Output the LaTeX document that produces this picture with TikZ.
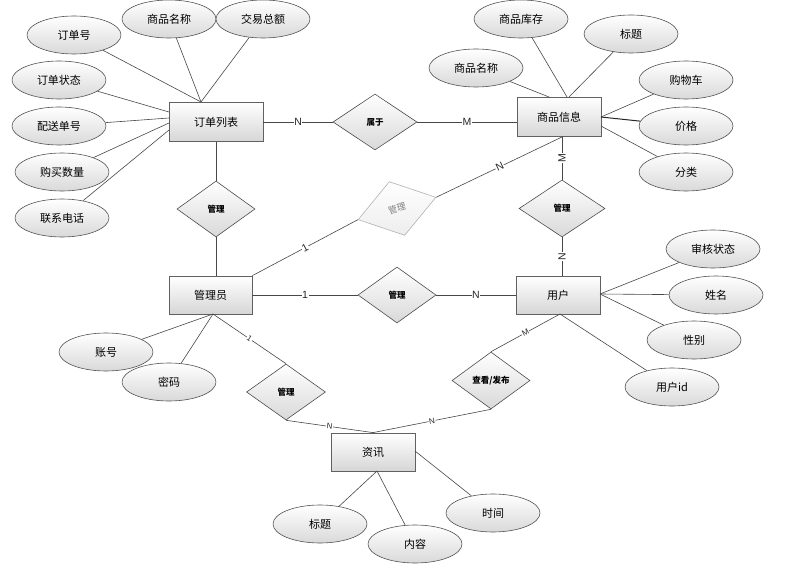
\documentclass[tikz,border=0pt]{standalone}
\usepackage{fontspec}
\setmainfont{Liberation Sans}
\newfontfamily\cjk{Noto Sans CJK SC}
\usetikzlibrary{shapes.geometric,shadows}
\begin{document}
\begin{tikzpicture}[x=1pt,y=-1pt,
  conn/.style={draw=black!72, line width=0.6pt},
  entity/.style={rectangle, draw=black!62, line width=0.8pt, top color=white, bottom color=black!16,
    minimum width=84pt, minimum height=38pt, inner sep=0pt,
    font=\cjk\fontsize{11}{13}\selectfont,
    drop shadow={shadow xshift=0.8pt, shadow yshift=-0.8pt, opacity=0.3}},
  attr/.style={ellipse, draw=black!68, line width=0.6pt, top color=white, bottom color=black!15,
    minimum width=94pt, minimum height=38pt, inner sep=0pt,
    font=\cjk\fontsize{11}{13}\selectfont},
  rel/.style={diamond, draw=black!70, line width=0.6pt, top color=white, bottom color=black!15,
    minimum width=78pt, minimum height=56pt, inner sep=0pt,
    font=\cjk\bfseries\fontsize{8.5}{10}\selectfont},
  faded/.style={rel, draw=black!30, bottom color=black!7, text=black!50,
    font=\cjk\fontsize{9}{10}\selectfont},
  card/.style={fill=white, inner sep=0.6pt, font=\fontsize{10.5}{12}\selectfont, text=black!85},
  cards/.style={card, font=\fontsize{8}{9}\selectfont}
]
\useasboundingbox (0,0) rectangle (796,575);

% entities
\node[entity, minimum width=94pt, minimum height=39pt] (ord) at (216,122) {订单列表};
\node[entity, minimum height=39pt] (shop) at (559,117) {商品信息};
\node[entity, minimum width=83pt] (admin) at (210.5,295) {管理员};
\node[entity] (user) at (558,295) {用户};
\node[entity] (news) at (373,452) {资讯};

% relationships
\node[rel, minimum width=84pt] (r1) at (375,122) {属于};
\node[rel] (r2) at (216,209) {管理};
\node[faded, minimum width=81pt, rotate=16] (r3) at (397,208.5) {管理};
\node[rel, minimum width=86pt, minimum height=57pt] (r4) at (562,208.5) {管理};
\node[rel] (r5) at (397,295) {管理};
\node[rel, minimum width=79pt] (r6) at (286,392) {管理};
\node[rel, minimum height=57pt] (r7) at (491,380.5) {查看/发布};

% attributes of 订单列表
\node[attr] (a1) at (74,35) {订单号};
\node[attr] (a2) at (169,19) {商品名称};
\node[attr] (a3) at (263,19) {交易总额};
\node[attr] (a4) at (59,80) {订单状态};
\node[attr] (a5) at (59,126) {配送单号};
\node[attr] (a6) at (62,172) {购买数量};
\node[attr] (a7) at (62,218) {联系电话};

% attributes of 商品信息
\node[attr] (b1) at (521,19) {商品库存};
\node[attr] (b2) at (631,34) {标题};
\node[attr] (b3) at (476,68) {商品名称};
\node[attr] (b4) at (686,80) {购物车};
\node[attr] (b5) at (686,126) {价格};
\node[attr] (b6) at (686,172) {分类};

% attributes of 用户
\node[attr] (c1) at (713,249) {审核状态};
\node[attr] (c2) at (716,295) {姓名};
\node[attr] (c3) at (694,340) {性别};
\node[attr] (c4) at (672,387) {用户id};

% attributes of 管理员
\node[attr] (d1) at (106,352) {账号};
\node[attr] (d2) at (169,382) {密码};

% attributes of 资讯
\node[attr] (e1) at (320,524) {标题};
\node[attr] (e2) at (415,544) {内容};
\node[attr] (e3) at (493,513) {时间};

% anchor points on entity borders
\coordinate (ordtop) at (201,102);
\coordinate (ordl1) at (169,112);
\coordinate (ordl2) at (169,118);
\coordinate (ordl3) at (169,123);
\coordinate (ordl4) at (169,130);
\coordinate (shoptop1) at (549,97);
\coordinate (shoptop2) at (567,97);
\coordinate (shoptop3) at (569,97);
\coordinate (shopr1) at (601,117);
\coordinate (shopr2) at (601,126);
\coordinate (shopbot) at (563,136.5);
\coordinate (userr) at (600,294);
\coordinate (userbot) at (560,314);
\coordinate (adminbot) at (213,314);
\coordinate (newsbot) at (377,471);
\coordinate (newsr) at (415,451);

% relationship connectors
\draw[conn] (ord.east) -- node[card]{N} (r1.west);
\draw[conn] (r1.east) -- node[card]{M} (r1.east -| shop.west);
\draw[conn] (ord.south) -- (r2.north);
\draw[conn] (r2.south) -- (r2.south |- admin.north);
\draw[conn] (admin.north east) -- node[card,sloped]{1} (r3.west);
\draw[conn] (r3.east) -- node[card,sloped]{N} (shopbot);
\draw[conn] (r4.north) -- node[card,rotate=90]{M} (r4.north |- shop.south);
\draw[conn] (r4.south) -- node[card,rotate=90]{N} (r4.south |- user.north);
\draw[conn] (admin.east) -- node[card]{1} (r5.west);
\draw[conn] (r5.east) -- node[card]{N} (r5.east -| user.west);
\draw[conn] (userbot) -- node[cards,sloped]{M} (r7.north);
\draw[conn] (r7.south) -- node[cards,sloped]{N} (news.north);
\draw[conn] (adminbot) -- node[cards,sloped]{1} (r6.north);
\draw[conn] (r6.south) -- node[cards,sloped]{N} (news.north);

% attribute connectors
\draw[conn] (a1) -- (ordtop);
\draw[conn] (a2) -- (ordtop);
\draw[conn] (a3) -- (ordtop);
\draw[conn] (a4) -- (ordl1);
\draw[conn] (a5) -- (ordl2);
\draw[conn] (a6) -- (ordl3);
\draw[conn] (a7) -- (ordl4);

\draw[conn] (b3) -- (shoptop1);
\draw[conn] (b1) -- (shoptop2);
\draw[conn] (b2) -- (shoptop3);
\draw[conn] (b4) -- (shopr1);
\draw[conn, line width=1pt, draw=black!85] (b5) -- (shopr1);
\draw[conn] (b6) -- (shopr2);

\draw[conn] (c1) -- (userr);
\draw[conn] (c2) -- (userr);
\draw[conn] (c3) -- (userr);
\draw[conn] (c4) -- (userbot);

\draw[conn] (d1) -- (adminbot);
\draw[conn] (d2) -- (adminbot);

\draw[conn] (e1) -- (newsbot);
\draw[conn] (e2) -- (newsbot);
\draw[conn] (e3) -- (newsr);
\end{tikzpicture}
\end{document}
